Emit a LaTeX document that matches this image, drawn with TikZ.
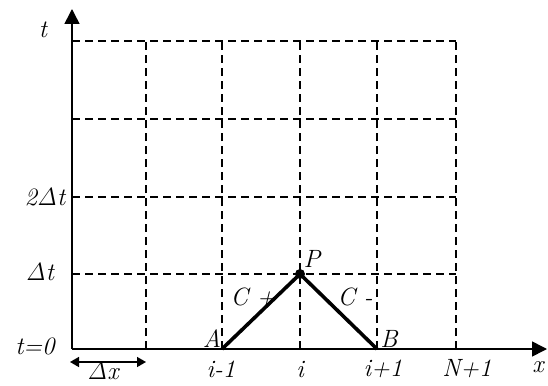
\documentclass[tikz,border=0pt]{standalone}
\usetikzlibrary{arrows.meta}

\begin{document}
\begin{tikzpicture}[
    x=1pt,y=-1pt,
    >={Triangle[length=15pt,width=15pt]},
    axis/.style={line width=1.6pt},
    grid/.style={line width=1.8pt,dash pattern=on 8pt off 5pt},
    charline/.style={line width=3.6pt},   % characteristics C+ and C-
    lbl/.style={font=\fontsize{25}{28}\selectfont\itshape,inner sep=0pt},
  ]
  \useasboundingbox (0,0) rectangle (548,385);
  \def\tO{349}    % t = 0 line
  \def\xO{72}     % x = 0 line

  % ---------- grid ----------
  \foreach \y in {274,197,119,41}
    \draw[grid] (\xO,\y) -- (456,\y);
  \foreach \x in {146,222,300,377,456}
    \draw[grid] (\x,\tO) -- (\x,41);

  % ---------- axes ----------
  \coordinate (O) at (\xO,\tO);
  \coordinate (xend) at (547,\tO);
  \coordinate (tend) at (\xO,9);
  \draw[axis,->] (O) -- (xend);
  \draw[axis,->] (O) -- (tend);

  % ---------- characteristics through P ----------
  \coordinate (A) at (222,\tO);
  \coordinate (P) at (300,274);
  \coordinate (B) at (377,\tO);
  \draw[charline] (A) -- (P) -- (B);
  \fill (P) circle (5);

  % ---------- step in x ----------
  \coordinate (dxL) at (70,362);
  \coordinate (dxR) at (146,362);
  \draw[line width=1.5pt,{Triangle[length=9pt,width=10pt]}-{Triangle[length=9pt,width=10pt]}]
       (dxL) -- (dxR);
  \node[lbl] (dx) at (103,371) {$\mathit{\Delta}$x};

  % ---------- labels ----------
  \node[lbl] (t)   at (43,30)   {t};
  \node[lbl] (t2)  at (45,197)  {2$\mathit{\Delta}$t};
  \node[lbl] (t1)  at (40,272)  {$\mathit{\Delta}$t};
  \node[lbl] (t0)  at (35,346)  {t=0};
  \node[lbl] (lA)  at (212,339) {A};
  \node[lbl] (lP)  at (312,259) {P};
  \node[lbl] (lB)  at (389,339) {B};
  \node[lbl] (cp)  at (253,297) {C +};
  \node[lbl] (cm)  at (355,297) {C -};
  \node[lbl] (im)  at (221,369) {i-1};
  \node[lbl] (i)   at (300,369) {i};
  \node[lbl] (ip)  at (383,369) {i+1};
  \node[lbl] (n1)  at (467,369) {N+1};
  \node[lbl] (x)   at (538,367) {x};
\end{tikzpicture}
\end{document}
